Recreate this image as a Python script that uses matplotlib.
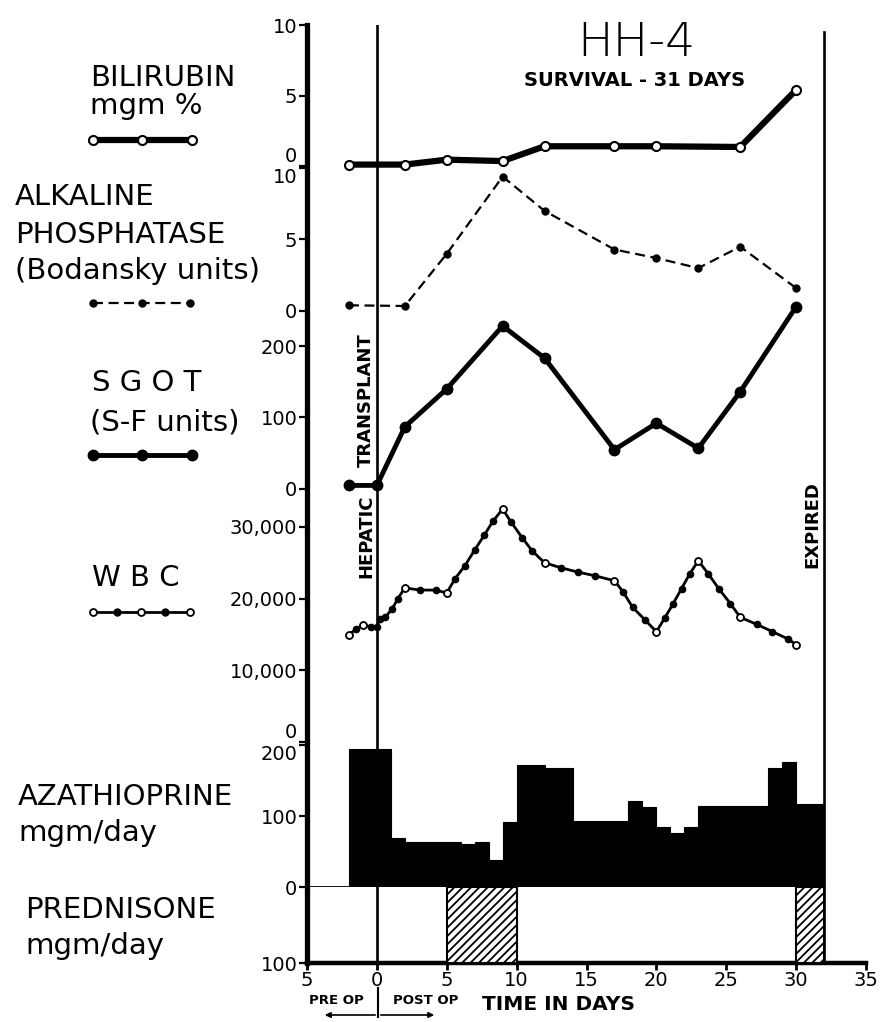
import numpy as np
import matplotlib
matplotlib.use("Agg")
import matplotlib.pyplot as plt

# data (days relative to transplant)
bili_days = [-2, 2, 5, 9, 12, 17, 20, 26, 30]
bili_vals = [0.1, 0.1, 0.45, 0.35, 1.4, 1.4, 1.4, 1.35, 5.4]

alk_days = [-2, 2, 5, 9, 12, 17, 20, 23, 26, 30]
alk_vals = [0.4, 0.35, 4.0, 9.4, 7.0, 4.3, 3.7, 3.0, 4.5, 1.6]

sgot_days = [-2, 0, 2, 5, 9, 12, 17, 20, 23, 26, 30]
sgot_vals = [5, 5, 87, 140, 228, 183, 55, 92, 57, 136, 255]

wbc_days = [-2, -1.5, -1, -0.4, 0.0, 0.2, 0.6, 1.1, 1.5, 2, 3.1, 4.2, 5, 5.6, 6.3,
            7.0, 7.7, 8.3, 9, 9.6, 10.4, 11.1, 12, 13.2, 14.4, 15.6, 17, 17.6, 18.3, 19.2,
            20, 20.6, 21.2, 21.8, 22.4, 23, 23.7, 24.5, 25.3, 26, 27.2, 28.3, 29.4, 30]
wbc_vals = [15000, 15700, 16300, 16100, 16000, 17200, 17400, 18600, 20000, 21500,
            21200, 21200, 20800, 22800, 24600, 26800, 28900, 30800, 32500, 30700,
            28500, 26700, 25000, 24300, 23700, 23200, 22500, 21000, 18800, 17000,
            15400, 17300, 19300, 21400, 23500, 25300, 23500, 21300, 19300, 17400,
            16400, 15400, 14400, 13600]
wbc_open = [-2, -1, 2, 5, 9, 12, 17, 20, 23, 26, 30]

aza_edges = [-2, 1, 2, 6, 7, 8, 9, 10, 12, 14, 18, 19, 20, 21, 22, 23, 28, 29, 30, 32]
aza_vals = [194, 69, 63, 60, 63, 38, 91, 172, 167, 93, 121, 112, 84, 76, 84, 114, 168, 176, 117]

pred_start = [5, 30]
pred_end = [10, 32]
pred_vals = [100, 100]

transplant_day = 0
expired_day = 32
xticks = [-5, 0, 5, 10, 15, 20, 25, 30, 35]

W, H = 881, 1022
X0, X1 = 307, 866      # pixel span of -5 .. 35
FONT = "DejaVu Sans"
plt.rcParams["font.family"] = FONT
plt.rcParams["hatch.linewidth"] = 1.3

fig = plt.figure(figsize=(W / 100, H / 100), dpi=100)


def panel(top, bottom):
    ax = fig.add_axes([X0 / W, (H - bottom) / H, (X1 - X0) / W, (bottom - top) / H])
    ax.set_xlim(-5, 35)
    ax.patch.set_visible(False)
    for s in ax.spines.values():
        s.set_visible(False)
    ax.set_xticks([])
    ax.tick_params(axis="y", direction="out", length=6, width=1.6, labelsize=14, pad=1)
    return ax


# frame: left spine, time axis, transplant / expired lines
base = panel(25, 963)
base.set_ylim(0, 1)
base.set_yticks([])
base.spines["left"].set_visible(True)
base.spines["left"].set_linewidth(3.8)
base.spines["bottom"].set_visible(True)
base.spines["bottom"].set_linewidth(3.2)
base.set_xticks(xticks)
base.set_xticklabels([str(abs(t)) for t in xticks])
base.tick_params(axis="x", direction="out", length=5, width=2, labelsize=14, pad=1)
base.axvline(transplant_day, 0, 1, color="black", lw=1.9)
base.axvline(expired_day, 0, (963 - 32) / (963 - 25), color="black", lw=1.9)

# bilirubin
ax = panel(25, 166)
ax.set_ylim(0, 10)
ax.set_yticks([0, 5, 10])
ax.plot(bili_days, bili_vals, color="black", lw=4.5, marker="o", ms=6.5,
        mfc="white", mec="black", mew=1.5, clip_on=False, zorder=5)
ax.get_yticklabels()[0].set_va("bottom")

# alkaline phosphatase
ax = panel(168, 311)
ax.set_ylim(0, 10)
ax.set_yticks([0, 5, 10])
ax.plot(alk_days, alk_vals, color="black", lw=1.6, dashes=(4.5, 2.5), marker="o",
        ms=5, clip_on=False)
ax.get_yticklabels()[2].set_va("top")

# SGOT
ax = panel(346, 489)
ax.set_ylim(0, 200)
ax.set_yticks([0, 100, 200])
ax.plot(sgot_days, sgot_vals, color="black", lw=3.5, marker="o", ms=7.5, clip_on=False)

# WBC
ax = panel(527, 742)
ax.set_ylim(0, 30000)
ax.set_yticks([0, 10000, 20000, 30000])
ax.set_yticklabels(["0", "10,000", "20,000", "30,000"])
ax.plot(wbc_days, wbc_vals, color="black", lw=2, marker="o", ms=4.5, clip_on=False)
is_open = np.isin(wbc_days, wbc_open)
ax.plot(np.array(wbc_days)[is_open], np.array(wbc_vals)[is_open], ls="none",
        marker="o", ms=5, mfc="white", mec="black", mew=1.3, clip_on=False, zorder=5)
ax.get_yticklabels()[0].set_va("bottom")

# azathioprine
ax = panel(745, 887)
ax.set_ylim(0, 200)
ax.set_yticks([0, 100, 200])
ax.bar(aza_edges[:-1], aza_vals, width=np.diff(aza_edges), align="edge",
       color="black", edgecolor="black", lw=0.8)
ax.axhline(0, color="black", lw=2, xmax=(expired_day + 5) / 40)
ax.get_yticklabels()[2].set_va("top")

# prednisone (downwards)
ax = panel(887, 963)
ax.set_ylim(100, 0)
ax.set_yticks([100])
ax.bar(pred_start, pred_vals, width=np.subtract(pred_end, pred_start), align="edge",
       color="white", edgecolor="black", hatch="////", lw=1.5)

# text layer in pixel coordinates
t = fig.add_axes([0, 0, 1, 1])
t.set_xlim(0, W)
t.set_ylim(H, 0)
t.axis("off")

t.text(636, 43, "HH-4", fontsize=34, ha="center", va="center", fontweight="light")
t.text(635, 80, "SURVIVAL - 31 DAYS", fontsize=14, ha="center", va="center", fontweight="bold")

lab = dict(fontsize=21, va="center", ha="left")
t.text(90, 78, "BILIRUBIN", **lab)
t.text(90, 106, "mgm %", **lab)
t.text(15, 197, "ALKALINE", **lab)
t.text(15, 235, "PHOSPHATASE", **lab)
t.text(15, 271, "(Bodansky units)", **lab)
t.text(92, 383, "S G O T", **lab)
t.text(90, 423, "(S-F units)", **lab)
t.text(92, 578, "W B C", **lab)
t.text(18, 797, "AZATHIOPRINE", **lab)
t.text(18, 833, "mgm/day", **lab)
t.text(25, 910, "PREDNISONE", **lab)
t.text(25, 946, "mgm/day", **lab)

# legend keys
t.plot([93, 142, 192], [140] * 3, color="black", lw=4.5, marker="o", ms=6.5,
       mfc="white", mec="black", mew=1.5)
t.plot([93, 142, 190], [303] * 3, color="black", lw=1.6, dashes=(4.5, 2.5), marker="o", ms=5)
t.plot([93, 142, 192], [455] * 3, color="black", lw=3.5, marker="o", ms=7.5)
t.plot([93, 190], [612, 612], color="black", lw=2)
t.plot([93, 141, 190], [612] * 3, ls="none", marker="o", ms=5, mfc="white", mec="black", mew=1.3)
t.plot([117, 165], [612] * 2, ls="none", marker="o", ms=5, color="black")

# rotated event labels
t.text(366, 400, "TRANSPLANT", rotation=90, fontsize=13, fontweight="bold", ha="center", va="center")
t.text(366, 536, "HEPATIC", rotation=90, fontsize=13, fontweight="bold", ha="center", va="center")
t.text(812, 525, "EXPIRED", rotation=90, fontsize=13, fontweight="bold", ha="center", va="center")

# time axis caption
t.text(336, 1000, "PRE OP", fontsize=9.5, fontweight="bold", ha="center", va="center")
t.text(426, 1000, "POST OP", fontsize=9.5, fontweight="bold", ha="center", va="center")
t.plot([378, 378], [988, 1017], color="black", lw=1.5)
t.annotate("", xy=(322, 1015), xytext=(378, 1015),
           arrowprops=dict(arrowstyle="-|>", color="black", lw=1.2, mutation_scale=8))
t.annotate("", xy=(437, 1015), xytext=(378, 1015),
           arrowprops=dict(arrowstyle="-|>", color="black", lw=1.2, mutation_scale=8))
t.text(558, 1004, "TIME IN DAYS", fontsize=14.5, fontweight="bold", ha="center", va="center")

fig.savefig("out.png", dpi=100)
